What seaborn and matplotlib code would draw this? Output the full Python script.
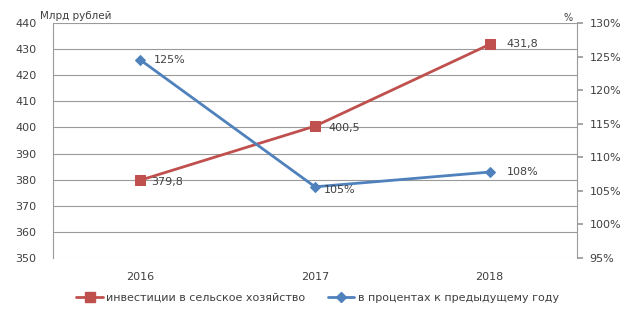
import matplotlib
matplotlib.use("Agg")
import matplotlib.pyplot as plt
import seaborn as sns
import pandas as pd
from matplotlib.lines import Line2D

years = ["2016", "2017", "2018"]
invest = [379.8, 400.5, 431.8]
invest_labels = ["379,8", "400,5", "431,8"]
pct = [124.5, 105.6, 107.8]
pct_labels = ["125%", "105%", "108%"]
left_ticks = [350, 360, 370, 380, 390, 400, 410, 420, 430, 440]
right_ticks = [95, 100, 105, 110, 115, 120, 125, 130]

sns.set_theme(style="white")
plt.rcParams['font.family'] = ['DejaVu Sans']

df = pd.DataFrame({"x": range(len(years)), "year": years, "invest": invest, "pct": pct})

fig = plt.figure(figsize=(6.35, 3.13), dpi=100)
ax = fig.add_axes([53/635, 1 - 258/313, (577-53)/635, (258-23)/313])
ax2 = ax.twinx()

red = "#C0504D"
blue = "#4F81BD"
tc = "#404040"

for v in left_ticks[1:]:
    ax.axhline(v, color="#9a9a9a", lw=0.8, zorder=0)
ax.axhline(350, color="#cccccc", lw=0.8, zorder=0)

sns.lineplot(data=df, x="x", y="invest", ax=ax, color=red, lw=2, marker="s",
             markersize=7, markeredgecolor=red, zorder=3)
sns.lineplot(data=df, x="x", y="pct", ax=ax2, color=blue, lw=2, marker="D",
             markersize=5, markeredgecolor=blue, zorder=3)

ax.set_xlim(-0.5, 2.5)
ax.set_ylim(350, 440)
ax2.set_ylim(95, 130)
ax.set_yticks(left_ticks)
ax.set_yticklabels([str(v) for v in left_ticks], fontsize=8, color=tc)
ax2.set_yticks(right_ticks)
ax2.set_yticklabels([f"{v}%" for v in right_ticks], fontsize=8, color=tc)
ax.set_xticks(range(len(years)))
ax.set_xticklabels(years, fontsize=8, color=tc)
ax.tick_params(axis="x", length=0, pad=10)
ax.tick_params(axis="y", length=0, pad=12)
ax2.tick_params(axis="y", length=4, color="#9a9a9a", pad=5, direction="out")
ax.set_xlabel("")
ax.set_ylabel("")
ax2.set_ylabel("")

for a in (ax, ax2):
    for s in a.spines.values():
        s.set_visible(False)
ax.spines["left"].set_visible(True)
ax.spines["left"].set_color("#9a9a9a")
ax.spines["left"].set_linewidth(0.8)
ax2.spines["right"].set_visible(True)
ax2.spines["right"].set_color("#9a9a9a")
ax2.spines["right"].set_linewidth(0.8)

inv_off = [(8, -1), (10, -1), (12, 0)]
for i, (v, t) in enumerate(zip(invest, invest_labels)):
    ax.annotate(t, (i, v), xytext=inv_off[i], textcoords="offset points",
                fontsize=8, color=tc, va="center", ha="left")
pct_off = [(10, 0), (6, -2), (12, 0)]
for i, (v, t) in enumerate(zip(pct, pct_labels)):
    ax2.annotate(t, (i, v), xytext=pct_off[i], textcoords="offset points",
                 fontsize=8, color=tc, va="center", ha="left")

fig.text(40/635, 1 - 16/313, "Млрд рублей", fontsize=7.5, color=tc, va="center")
fig.text(563/635, 1 - 18/313, "%", fontsize=7, color=tc, va="center")

handles = [Line2D([], [], color=red, lw=2, marker="s", markersize=7),
           Line2D([], [], color=blue, lw=2, marker="D", markersize=5)]
fig.legend(handles, ["инвестиции в сельское хозяйство", "в процентах к предыдущему году"],
           loc="center", bbox_to_anchor=(0.5, 1 - 298/313), ncol=2, frameon=False,
           fontsize=8, handlelength=2.4, columnspacing=2.0, handletextpad=0.3,
           labelcolor=tc)

fig.savefig("out.png", dpi=100)
